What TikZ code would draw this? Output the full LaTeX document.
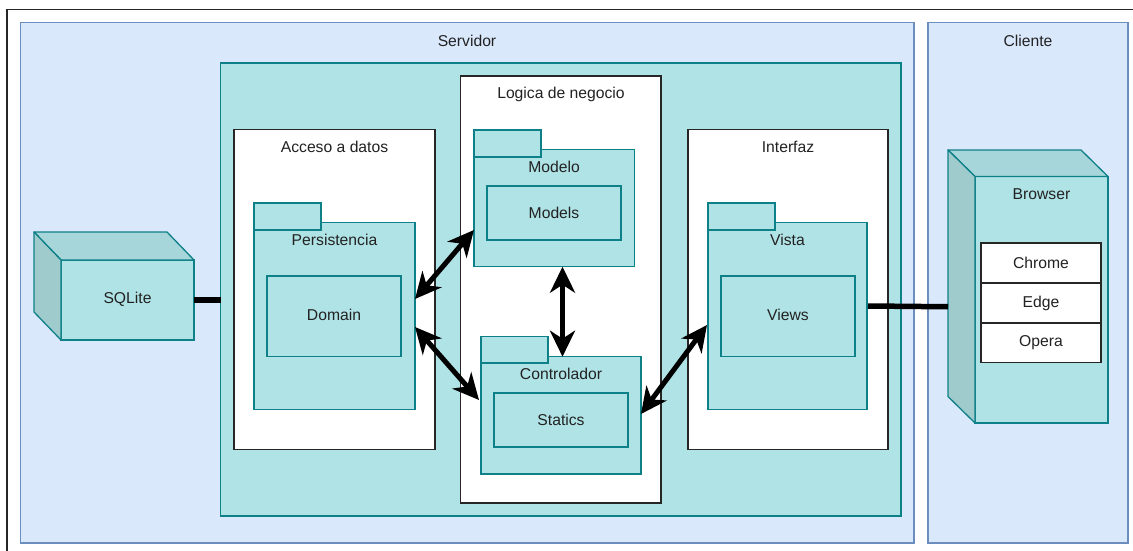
\documentclass[tikz,border=0pt]{standalone}
\usepackage{fontspec}
\setmainfont{Liberation Sans}
\usetikzlibrary{arrows.meta,calc}
\definecolor{grpfill}{HTML}{DAE8FC}
\definecolor{grpline}{HTML}{6C8EBF}
\definecolor{tealfill}{HTML}{B0E3E6}
\definecolor{tealline}{HTML}{0E8088}
\definecolor{tealtop}{HTML}{A6D6D9}
\definecolor{tealside}{HTML}{9FCBCD}
\definecolor{txt}{HTML}{222222}
\newcommand{\rbox}[6]{\node[#1,anchor=north west,minimum width={(#5)-(#3)},minimum height={(#6)-(#4)}] (#2) at (#3,#4) {};}
\tikzset{
  grp/.style={draw=grpline,fill=grpfill,line width=1.3pt,inner sep=0,outer sep=0},
  teal/.style={draw=tealline,fill=tealfill,line width=1.3pt,inner sep=0,outer sep=0},
  wbox/.style={draw=black!85,fill=white,line width=1.3pt,inner sep=0,outer sep=0},
  lbl/.style={font=\fontsize{15.7}{18}\selectfont,text=txt,inner sep=0},
  topface/.style={draw=tealline,fill=tealtop,line width=1.3pt,line join=round},
  sideface/.style={draw=tealline,fill=tealside,line width=1.3pt,line join=round},
  tip/.style={Stealth[length=26pt,width=25pt,inset=8pt]},
  biarrow/.style={line width=5pt,{Stealth[length=26pt,width=25pt,inset=8pt]}-{Stealth[length=26pt,width=25pt,inset=8pt]}},
  link/.style={line width=5.5pt}
}
\begin{document}
\begin{tikzpicture}[x=1pt,y=-1pt]
\useasboundingbox (0,0) rectangle (1133,551);
\fill[white] (0,0) rectangle (1133,551);
% outer frame
\draw[black!85,line width=1.5pt] (7,551) -- (7,9.5) -- (1133,9.5);
% groups
\rbox{grp}{servidor}{20.7}{22.8}{914}{543}
\rbox{grp}{cliente}{928}{22.8}{1128}{543}
\node[lbl] (servidorlbl) at (467,41) {Servidor};
\node[lbl] (clientelbl) at (1028,41) {Cliente};
% teal inner server
\rbox{teal}{app}{220.7}{63}{901}{516}
% Acceso a datos
\rbox{wbox}{acceso}{234}{129.5}{435}{449.5}
\node[lbl] (accesolbl) at (334.5,147) {Acceso a datos};
\rbox{teal}{pers}{254}{222.5}{415}{409.5}
\rbox{teal}{perstab}{254}{203}{321}{230}
\node[lbl] (perslbl) at (334.5,240) {Persistencia};
\rbox{teal}{domain}{267}{276}{401}{356.5}
\node[lbl] (domainlbl) at (334,315) {Domain};
% Logica de negocio
\rbox{wbox}{logica}{460.7}{76}{661}{503}
\node[lbl] (logicalbl) at (561,94) {Logica de negocio};
\rbox{teal}{modelo}{474}{149.7}{634.7}{266.7}
\rbox{teal}{modelotab}{474}{130}{541}{157}
\node[lbl] (modelolbl) at (554,167) {Modelo};
\rbox{teal}{models}{487}{186}{621}{240}
\node[lbl] (modelslbl) at (554,213) {Models};
\rbox{teal}{ctrl}{481}{356.7}{641}{474}
\rbox{teal}{ctrltab}{481}{336.7}{548}{363}
\node[lbl] (ctrllbl) at (561,374) {Controlador};
\rbox{teal}{statics}{494}{393}{628}{447}
\node[lbl] (staticslbl) at (561,420) {Statics};
% Interfaz
\rbox{wbox}{interfaz}{688}{129.5}{888}{449.5}
\node[lbl] (interfazlbl) at (788,147) {Interfaz};
\rbox{teal}{vista}{708}{222.5}{867}{409.5}
\rbox{teal}{vistatab}{708}{203}{775}{230}
\node[lbl] (vistalbl) at (787.5,240) {Vista};
\rbox{teal}{views}{721}{276}{855}{356.5}
\node[lbl] (viewslbl) at (788,315) {Views};
% SQLite node (3D)
\rbox{teal}{sqlite}{61}{260}{194}{340}
\draw[topface] (sqlite.north west) -- ++(-27,-28) -- ($(sqlite.north east)+(-27,-28)$) -- (sqlite.north east) -- cycle;
\draw[sideface] (sqlite.north west) -- ++(-27,-28) -- ($(sqlite.south west)+(-27,-28)$) -- (sqlite.south west) -- cycle;
\node[lbl] (sqlitelbl) at (127.5,299) {SQLite};
% Browser node (3D)
\rbox{teal}{browser}{975}{176.5}{1108}{423}
\draw[topface] (browser.north west) -- ++(-27,-26.5) -- ($(browser.north east)+(-27,-26.5)$) -- (browser.north east) -- cycle;
\draw[sideface] (browser.north west) -- ++(-27,-26.5) -- ($(browser.south west)+(-27,-26.5)$) -- (browser.south west) -- cycle;
\coordinate (browserside) at ($(browser.west)+(-27,7)$);
\node[lbl] (browserlbl) at (1041.5,194) {Browser};
\rbox{wbox}{chrome}{981}{243}{1101}{283}
\rbox{wbox}{edge}{981}{283}{1101}{323}
\rbox{wbox}{opera}{981}{323}{1101}{362.5}
\node[lbl] at (chrome.center) {Chrome};
\node[lbl] at (edge.center) {Edge};
\node[lbl] at (opera.center) {Opera};
% connectors
\draw[link] (sqlite.east |- 0,300) -- (app.west |- 0,300);
\draw[link] ($(vista.east)+(1,-10)$) -- (browserside);
\draw[biarrow] ($(pers.north east)+(0,76.5)$) -- ($(modelo.north west)+(0,80.3)$);
\draw[biarrow] ($(pers.north east)+(0,104.5)$) -- ($(ctrl.north west)+(-2,43.3)$);
\draw[biarrow] ($(modelo.south west)+(88.5,0)$) -- ($(ctrl.north west)+(81.5,0)$);
\draw[biarrow] ($(ctrl.north east)+(0,57.3)$) -- ($(vista.north west)+(-1,102.5)$);
\end{tikzpicture}
\end{document}
